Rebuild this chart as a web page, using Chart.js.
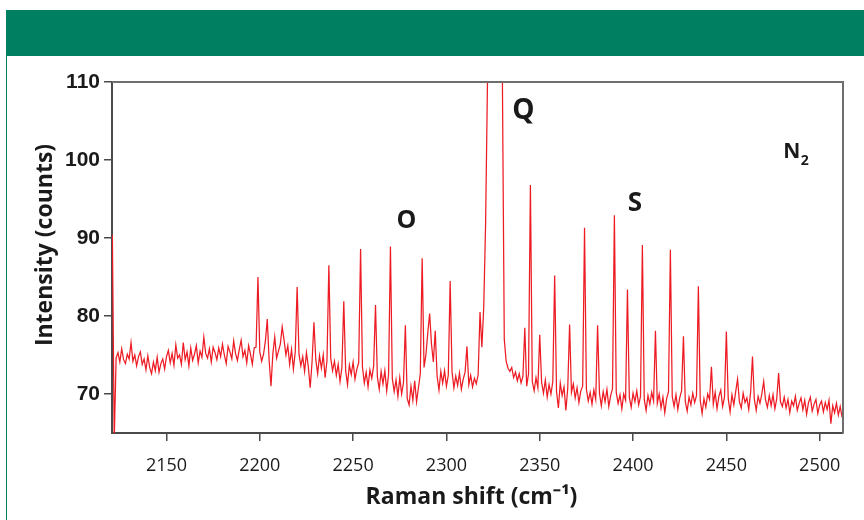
<!DOCTYPE html>
<html>
<head>
<meta charset="utf-8">
<script src="https://cdn.jsdelivr.net/npm/chart.js@4.4.1/dist/chart.umd.min.js"></script>
<style>
  body { margin: 0; background: #fff; }
  #wrap { position: relative; width: 864px; height: 520px; overflow: hidden; }
  #band { position: absolute; left: 6px; top: 10px; width: 858px; height: 46px; background: #008060; }
  #edge { position: absolute; left: 6px; top: 56px; width: 1px; height: 464px; background: #008060; }
  #chart { position: absolute; left: 0; top: 0; }
</style>
</head>
<body>
<div id="wrap">
  <div id="band"></div>
  <div id="edge"></div>
  <canvas id="chart" width="864" height="520"></canvas>
</div>
<script>
// spectrum sampled every 1 cm-1 starting at 2121 cm-1
var shiftStart = 2121;
var shiftStep = 1;

var intensity = [
  90.4, 64.0, 74.6, 75.3, 74.1, 75.8, 74.4, 73.9, 75.1, 74.5, // 2121
  76.6, 74.2, 75.0, 73.6, 74.8, 75.4, 73.8, 74.5, 73.1, 74.9, // 2131
  73.4, 72.6, 74.1, 73.0, 74.7, 72.8, 73.9, 74.5, 73.2, 74.8, // 2141
  75.6, 74.0, 75.2, 73.7, 76.3, 74.6, 75.0, 73.8, 76.6, 74.4, // 2151
  75.4, 73.6, 75.9, 74.3, 75.1, 76.2, 74.0, 75.5, 74.7, 77.3, // 2161
  75.2, 74.6, 75.8, 74.1, 76.0, 75.3, 74.4, 75.9, 74.8, 76.4, // 2171
  75.0, 73.9, 76.1, 75.4, 74.5, 76.8, 75.2, 74.3, 75.7, 76.9, // 2181
  74.8, 75.6, 74.0, 76.2, 75.1, 73.8, 75.9, 76.0, 85.0, 75.4, // 2191
  74.2, 75.1, 76.8, 79.6, 74.3, 71.0, 75.2, 77.3, 74.6, 75.5, // 2201
  76.4, 78.6, 76.9, 75.0, 76.2, 73.8, 75.7, 73.2, 75.4, 83.7, // 2211
  75.1, 73.6, 74.8, 72.9, 75.3, 73.5, 70.8, 74.1, 79.2, 74.4, // 2221
  72.6, 74.9, 73.3, 75.0, 72.1, 74.3, 86.5, 74.6, 73.0, 74.2, // 2231
  72.4, 73.8, 71.6, 73.4, 81.9, 73.0, 71.2, 73.7, 72.5, 74.1, // 2241
  71.9, 73.2, 74.0, 88.6, 73.5, 71.4, 72.8, 70.9, 73.1, 72.0, // 2251
  73.6, 81.4, 72.2, 70.6, 72.9, 71.3, 73.0, 70.4, 72.5, 88.9, // 2261
  72.0, 70.3, 71.8, 69.7, 72.1, 70.0, 71.5, 78.8, 69.4, 68.6, // 2271
  71.0, 69.2, 71.7, 69.0, 70.8, 72.6, 87.4, 73.4, 75.0, 77.8, // 2281
  80.3, 76.4, 74.1, 78.1, 72.3, 70.5, 72.9, 71.4, 73.0, 71.0, // 2291
  72.4, 84.5, 72.9, 70.8, 72.3, 71.1, 72.7, 70.6, 71.9, 72.8, // 2301
  76.1, 71.2, 72.4, 70.9, 72.0, 71.3, 72.5, 80.5, 76.0, 81.2, // 2311
  92.0, 110, 110, 110, 110, 110, 110, 110, 110, 110,          // 2321 Q branch (off scale)
  77.0, 74.2, 73.3, 72.9, 73.4, 72.1, 72.8, 71.7, 72.6, 71.4, // 2331
  72.3, 78.5, 71.0, 72.6, 96.8, 71.6, 70.4, 72.1, 70.8, 77.6, // 2341
  71.5, 70.1, 71.8, 69.6, 71.2, 70.0, 71.6, 85.2, 70.3, 68.2, // 2351
  71.4, 69.8, 70.9, 67.9, 70.7, 78.9, 70.2, 71.3, 69.5, 70.8, // 2361
  68.9, 70.4, 71.0, 91.3, 70.6, 69.1, 70.2, 68.7, 70.5, 69.3, // 2371
  78.8, 70.1, 68.5, 70.3, 69.0, 70.6, 68.4, 69.8, 70.7, 92.9, // 2381
  70.2, 68.8, 69.9, 68.1, 70.0, 69.2, 83.4, 69.6, 68.3, 70.1, // 2391
  69.0, 70.4, 68.6, 69.7, 89.1, 69.3, 67.9, 69.8, 68.7, 70.2, // 2401
  69.1, 78.1, 68.8, 70.0, 68.2, 69.6, 67.6, 69.4, 70.3, 88.5, // 2411
  69.7, 68.4, 69.9, 68.0, 69.5, 70.4, 77.4, 69.0, 67.8, 69.6, // 2421
  68.6, 70.1, 68.9, 69.8, 83.8, 69.2, 67.5, 69.4, 68.3, 70.0, // 2431
  69.3, 73.5, 68.7, 70.2, 68.1, 69.7, 70.5, 68.4, 69.6, 78.0, // 2441
  69.4, 67.7, 69.9, 68.6, 70.3, 71.9, 69.0, 68.2, 70.1, 68.9, // 2451
  69.5, 68.0, 70.2, 74.8, 69.3, 67.9, 69.7, 68.8, 70.0, 71.6, // 2461
  69.2, 68.3, 69.8, 68.5, 69.9, 68.1, 69.4, 72.7, 69.0, 68.4, // 2471
  69.6, 68.2, 69.3, 67.6, 69.1, 68.5, 69.7, 67.9, 68.8, 69.5, // 2481
  68.0, 69.2, 67.4, 68.9, 69.6, 67.8, 68.7, 69.3, 67.5, 68.6, // 2491
  69.1, 67.7, 68.9, 68.0, 69.2, 66.2, 68.5, 67.6, 68.8, 67.3, // 2501
  68.4, 67.0                                                  // 2511
];

var xTicks = [2150, 2200, 2250, 2300, 2350, 2400, 2450, 2500];
var yTicks = [70, 80, 90, 100, 110];

var branchLabels = [
  { text: 'O', x: 2278.6, y: 91.3, size: 25 },
  { text: 'Q', x: 2341.3, y: 105.3, size: 28 },
  { text: 'S', x: 2401.0, y: 93.4, size: 26 }
];

var points = intensity.map(function (v, i) {
  return { x: shiftStart + i * shiftStep, y: v };
});

var axisColor = '#4a4a4a';

var extras = {
  id: 'extras',
  afterDraw: function (chart) {
    var ctx = chart.ctx;
    var a = chart.chartArea;
    var xs = chart.scales.x, ys = chart.scales.y;
    ctx.save();
    // top and right frame
    ctx.strokeStyle = '#6e6e6e';
    ctx.lineWidth = 2;
    ctx.beginPath();
    ctx.moveTo(a.left, a.top);
    ctx.lineTo(a.right, a.top);
    ctx.lineTo(a.right, a.bottom);
    ctx.stroke();

    ctx.fillStyle = '#1a1a1a';
    ctx.textAlign = 'center';
    ctx.textBaseline = 'alphabetic';
    branchLabels.forEach(function (l) {
      ctx.font = 'bold ' + l.size + 'px "Open Sans"';
      ctx.fillText(l.text, xs.getPixelForValue(l.x), ys.getPixelForValue(l.y));
    });
    // N2 label
    ctx.font = 'bold 21px "Open Sans"';
    ctx.fillText('N', xs.getPixelForValue(2485.1), ys.getPixelForValue(100.3));
    ctx.font = 'bold 14px "Open Sans"';
    ctx.fillText('2', xs.getPixelForValue(2492.0), ys.getPixelForValue(99.3));

    // axis titles
    ctx.font = 'bold 23px "Open Sans"';
    ctx.textBaseline = 'middle';
    ctx.fillText('Raman shift (cm\u207B\u00B9)', (a.left + a.right) / 2 - 6, 497);
    ctx.translate(45, 245);
    ctx.rotate(-Math.PI / 2);
    ctx.fillText('Intensity (counts)', 0, 0);
    ctx.restore();
  }
};

new Chart(document.getElementById('chart'), {
  type: 'line',
  data: {
    datasets: [{
      data: points,
      borderColor: '#ed1c24',
      borderWidth: 1.25,
      pointRadius: 0,
      tension: 0,
      fill: false
    }]
  },
  options: {
    responsive: false,
    animation: false,
    layout: { padding: { left: 0, top: 82, right: 21, bottom: 0 } },
    plugins: { legend: { display: false }, tooltip: { enabled: false } },
    scales: {
      x: {
        type: 'linear',
        min: 2120.8,
        max: 2512.5,
        afterFit: function (s) { s.height = 87; },
        afterBuildTicks: function (s) { s.ticks = xTicks.map(function (v) { return { value: v }; }); },
        grid: { drawOnChartArea: false, drawTicks: true, tickLength: 8, color: axisColor, lineWidth: 1.5 },
        border: { display: true, color: axisColor, width: 2 },
        ticks: {
          padding: 14,
          color: '#1a1a1a',
          font: { family: '"Open Sans"', size: 18 },
          maxRotation: 0,
          callback: function (v) { return String(v); }
        }
      },
      y: {
        min: 65,
        max: 110,
        afterFit: function (s) { s.width = 112; },
        afterBuildTicks: function (s) { s.ticks = yTicks.map(function (v) { return { value: v }; }); },
        grid: { drawOnChartArea: false, drawTicks: true, tickLength: 8, color: axisColor, lineWidth: 1.5 },
        border: { display: true, color: axisColor, width: 2 },
        ticks: {
          padding: 4,
          color: '#1a1a1a',
          font: { family: '"Liberation Sans"', size: 21, weight: 'bold' },
          callback: function (v) { return String(v); }
        }
      }
    }
  },
  plugins: [extras]
});
</script>
</body>
</html>
